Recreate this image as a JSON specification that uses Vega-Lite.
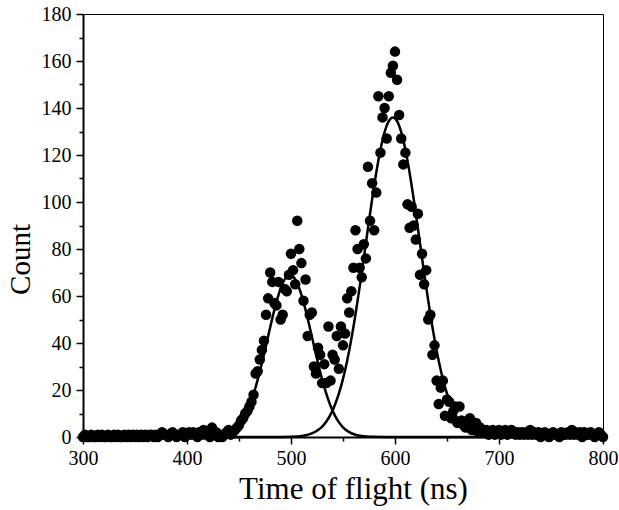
{
  "$schema": "https://vega.github.io/schema/vega-lite/v6.json",
  "width": 520,
  "height": 423,
  "autosize": {"type": "none"},
  "padding": {"left": 83, "top": 14, "right": 16, "bottom": 73},
  "background": "#ffffff",
  "config": {
    "view": {"stroke": "#000000", "strokeWidth": 1},
    "font": "Liberation Serif",
    "axis": {
      "grid": false,
      "domainColor": "#000000",
      "domainWidth": 2,
      "tickColor": "#000000",
      "tickWidth": 1.5,
      "labelColor": "#000000",
      "titleColor": "#000000",
      "labelFont": "Liberation Serif",
      "titleFont": "Liberation Serif",
      "labelFontSize": 20,
      "titleFontSize": 31,
      "titleFontWeight": "normal",
      "labelOverlap": false,
      "labelFlush": false
    }
  },
  "datasets": {
    "pts": [
      {"t":300,"c":0},{"t":302,"c":1},{"t":304,"c":0},{"t":306,"c":0},{"t":308,"c":1},{"t":310,"c":0},{"t":312,"c":0},{"t":314,"c":1},{"t":316,"c":0},{"t":318,"c":1},
      {"t":320,"c":0},{"t":322,"c":0},{"t":324,"c":1},{"t":326,"c":0},{"t":328,"c":0},{"t":330,"c":1},{"t":332,"c":0},{"t":334,"c":1},{"t":336,"c":0},{"t":338,"c":0},
      {"t":340,"c":1},{"t":342,"c":0},{"t":344,"c":1},{"t":346,"c":0},{"t":348,"c":1},{"t":350,"c":0},{"t":352,"c":1},{"t":354,"c":0},{"t":356,"c":1},{"t":358,"c":0},
      {"t":360,"c":1},{"t":362,"c":0},{"t":364,"c":1},{"t":366,"c":1},{"t":368,"c":0},{"t":370,"c":1},{"t":372,"c":0},{"t":374,"c":1},{"t":376,"c":2},{"t":378,"c":1},
      {"t":380,"c":1},{"t":382,"c":0},{"t":384,"c":1},{"t":386,"c":2},{"t":388,"c":1},{"t":390,"c":0},{"t":392,"c":1},{"t":394,"c":1},{"t":396,"c":2},{"t":398,"c":0},
      {"t":400,"c":1},{"t":402,"c":2},{"t":404,"c":1},{"t":406,"c":2},{"t":408,"c":1},{"t":410,"c":0},{"t":412,"c":2},{"t":414,"c":1},{"t":416,"c":3},{"t":418,"c":1},
      {"t":420,"c":2},{"t":422,"c":0},{"t":424,"c":4},{"t":426,"c":1},{"t":428,"c":2},{"t":430,"c":0},{"t":432,"c":1},{"t":434,"c":0},{"t":436,"c":1},{"t":438,"c":2},
      {"t":440,"c":3},{"t":442,"c":1},{"t":444,"c":2},{"t":446,"c":3},{"t":448,"c":4},{"t":450,"c":5},{"t":452,"c":7},{"t":454,"c":8},{"t":456,"c":10},{"t":458,"c":11},
      {"t":460,"c":13},{"t":462,"c":15},{"t":464,"c":18},{"t":466,"c":27},{"t":468,"c":28},{"t":470,"c":33},{"t":472,"c":37},{"t":474,"c":41},{"t":476,"c":52},{"t":478,"c":59},
      {"t":480,"c":70},{"t":482,"c":66},{"t":484,"c":57},{"t":486,"c":56},{"t":488,"c":66},{"t":490,"c":50},{"t":492,"c":52},{"t":494,"c":63},{"t":496,"c":62},{"t":498,"c":69},
      {"t":500,"c":78},{"t":502,"c":71},{"t":504,"c":65},{"t":506,"c":92},{"t":508,"c":80},{"t":510,"c":74},{"t":512,"c":58},{"t":514,"c":67},{"t":516,"c":43},{"t":518,"c":52},
      {"t":520,"c":53},{"t":522,"c":30},{"t":524,"c":27},{"t":526,"c":38},{"t":528,"c":35},{"t":530,"c":23},{"t":532,"c":31},{"t":534,"c":23},{"t":536,"c":47},{"t":538,"c":24},
      {"t":540,"c":35},{"t":542,"c":33},{"t":544,"c":43},{"t":546,"c":29},{"t":548,"c":47},{"t":550,"c":39},{"t":552,"c":44},{"t":554,"c":59},{"t":556,"c":53},{"t":558,"c":62},
      {"t":560,"c":72},{"t":562,"c":88},{"t":564,"c":80},{"t":566,"c":72},{"t":568,"c":68},{"t":570,"c":82},{"t":572,"c":76},{"t":574,"c":115},{"t":576,"c":92},{"t":578,"c":108},
      {"t":580,"c":88},{"t":582,"c":104},{"t":584,"c":145},{"t":586,"c":121},{"t":588,"c":136},{"t":590,"c":140},{"t":592,"c":127},{"t":594,"c":145},{"t":596,"c":155},{"t":598,"c":158},
      {"t":600,"c":164},{"t":602,"c":152},{"t":604,"c":137},{"t":606,"c":127},{"t":608,"c":116},{"t":610,"c":121},{"t":612,"c":99},{"t":614,"c":89},{"t":616,"c":98},{"t":618,"c":90},
      {"t":620,"c":84},{"t":622,"c":95},{"t":624,"c":69},{"t":626,"c":78},{"t":628,"c":65},{"t":630,"c":71},{"t":632,"c":50},{"t":634,"c":52},{"t":636,"c":35},{"t":638,"c":39},
      {"t":640,"c":24},{"t":642,"c":14},{"t":644,"c":21},{"t":646,"c":24},{"t":648,"c":9},{"t":650,"c":16},{"t":652,"c":15},{"t":654,"c":8},{"t":656,"c":11},{"t":658,"c":13},
      {"t":660,"c":6},{"t":662,"c":13},{"t":664,"c":7},{"t":666,"c":5},{"t":668,"c":4},{"t":670,"c":6},{"t":672,"c":8},{"t":674,"c":3},{"t":676,"c":6},{"t":678,"c":6},
      {"t":680,"c":2},{"t":682,"c":4},{"t":684,"c":3},{"t":686,"c":2},{"t":688,"c":3},{"t":690,"c":1},{"t":692,"c":2},{"t":694,"c":3},{"t":696,"c":1},{"t":698,"c":2},
      {"t":700,"c":3},{"t":702,"c":1},{"t":704,"c":2},{"t":706,"c":3},{"t":708,"c":1},{"t":710,"c":2},{"t":712,"c":3},{"t":714,"c":2},{"t":716,"c":1},{"t":718,"c":2},
      {"t":720,"c":1},{"t":722,"c":2},{"t":724,"c":1},{"t":726,"c":2},{"t":728,"c":1},{"t":730,"c":3},{"t":732,"c":1},{"t":734,"c":2},{"t":736,"c":1},{"t":738,"c":2},
      {"t":740,"c":0},{"t":742,"c":1},{"t":744,"c":2},{"t":746,"c":1},{"t":748,"c":0},{"t":750,"c":1},{"t":752,"c":2},{"t":754,"c":1},{"t":756,"c":1},{"t":758,"c":0},
      {"t":760,"c":2},{"t":762,"c":1},{"t":764,"c":1},{"t":766,"c":2},{"t":768,"c":1},{"t":770,"c":3},{"t":772,"c":1},{"t":774,"c":2},{"t":776,"c":1},{"t":778,"c":2},
      {"t":780,"c":0},{"t":782,"c":2},{"t":784,"c":1},{"t":786,"c":1},{"t":788,"c":2},{"t":790,"c":1},{"t":792,"c":0},{"t":794,"c":1},{"t":796,"c":2},{"t":798,"c":1},
      {"t":800,"c":0}
    ],
    "fit": [
      {"peak":"p1","t":300,"c":0},{"peak":"p1","t":400,"c":0},{"peak":"p1","t":420,"c":0.08},{"peak":"p1","t":430,"c":0.4},{"peak":"p1","t":436,"c":0.94},
      {"peak":"p1","t":442,"c":2.05},{"peak":"p1","t":448,"c":4.13},{"peak":"p1","t":452,"c":6.32},{"peak":"p1","t":456,"c":9.33},{"peak":"p1","t":460,"c":13.3},
      {"peak":"p1","t":464,"c":18.33},{"peak":"p1","t":468,"c":24.39},{"peak":"p1","t":472,"c":31.35},{"peak":"p1","t":476,"c":38.92},{"peak":"p1","t":480,"c":46.69},
      {"peak":"p1","t":484,"c":54.09},{"peak":"p1","t":488,"c":60.53},{"peak":"p1","t":492,"c":65.44},{"peak":"p1","t":496,"c":68.33},{"peak":"p1","t":499,"c":69},
      {"peak":"p1","t":502,"c":68.33},{"peak":"p1","t":506,"c":65.44},{"peak":"p1","t":510,"c":60.53},{"peak":"p1","t":514,"c":54.09},{"peak":"p1","t":518,"c":46.69},
      {"peak":"p1","t":522,"c":38.92},{"peak":"p1","t":526,"c":31.35},{"peak":"p1","t":530,"c":24.39},{"peak":"p1","t":534,"c":18.33},{"peak":"p1","t":538,"c":13.3},
      {"peak":"p1","t":542,"c":9.33},{"peak":"p1","t":546,"c":6.32},{"peak":"p1","t":550,"c":4.13},{"peak":"p1","t":556,"c":2.05},{"peak":"p1","t":562,"c":0.94},
      {"peak":"p1","t":568,"c":0.4},{"peak":"p1","t":578,"c":0.08},{"peak":"p1","t":600,"c":0},{"peak":"p1","t":800,"c":0},
      {"peak":"p2","t":300,"c":0},{"peak":"p2","t":480,"c":0},{"peak":"p2","t":500,"c":0.11},{"peak":"p2","t":512,"c":0.57},{"peak":"p2","t":520,"c":1.51},
      {"peak":"p2","t":526,"c":2.94},{"peak":"p2","t":530,"c":4.45},{"peak":"p2","t":534,"c":6.57},{"peak":"p2","t":538,"c":9.49},{"peak":"p2","t":542,"c":13.37},
      {"peak":"p2","t":546,"c":18.41},{"peak":"p2","t":550,"c":24.74},{"peak":"p2","t":554,"c":32.48},{"peak":"p2","t":558,"c":41.66},{"peak":"p2","t":562,"c":52.14},
      {"peak":"p2","t":566,"c":63.77},{"peak":"p2","t":570,"c":76.16},{"peak":"p2","t":574,"c":88.82},{"peak":"p2","t":578,"c":101.17},{"peak":"p2","t":582,"c":112.54},
      {"peak":"p2","t":586,"c":122.26},{"peak":"p2","t":590,"c":129.72},{"peak":"p2","t":594,"c":134.39},{"peak":"p2","t":598,"c":136},{"peak":"p2","t":602,"c":134.39},
      {"peak":"p2","t":606,"c":129.72},{"peak":"p2","t":610,"c":122.26},{"peak":"p2","t":614,"c":112.54},{"peak":"p2","t":618,"c":101.17},{"peak":"p2","t":622,"c":88.82},
      {"peak":"p2","t":626,"c":76.16},{"peak":"p2","t":630,"c":63.77},{"peak":"p2","t":634,"c":52.14},{"peak":"p2","t":638,"c":41.66},{"peak":"p2","t":642,"c":32.48},
      {"peak":"p2","t":646,"c":24.74},{"peak":"p2","t":650,"c":18.41},{"peak":"p2","t":654,"c":13.37},{"peak":"p2","t":658,"c":9.49},{"peak":"p2","t":662,"c":6.57},
      {"peak":"p2","t":666,"c":4.45},{"peak":"p2","t":670,"c":2.94},{"peak":"p2","t":676,"c":1.51},{"peak":"p2","t":684,"c":0.57},{"peak":"p2","t":696,"c":0.11},
      {"peak":"p2","t":720,"c":0},{"peak":"p2","t":800,"c":0}
    ]
  },
  "encoding": {
    "x": {
      "field": "t",
      "type": "quantitative",
      "scale": {"domain": [300, 800], "nice": false, "zero": false},
      "axis": {
        "title": "Time of flight (ns)",
        "values": [300, 350, 400, 450, 500, 550, 600, 650, 700, 750, 800],
        "labelExpr": "datum.value % 100 === 0 ? datum.label : ''",
        "tickSize": {"condition": {"test": "datum.value % 100 === 0", "value": 7}, "value": 4},
        "labelPadding": 4,
        "titlePadding": 6,
        "titleX": 270
      }
    },
    "y": {
      "field": "c",
      "type": "quantitative",
      "scale": {"domain": [0, 180], "nice": false},
      "axis": {
        "title": "Count",
        "values": [0, 10, 20, 30, 40, 50, 60, 70, 80, 90, 100, 110, 120, 130, 140, 150, 160, 170, 180],
        "labelExpr": "datum.value % 20 === 0 ? datum.label : ''",
        "tickSize": {"condition": {"test": "datum.value % 20 === 0", "value": 7}, "value": 4},
        "labelPadding": 5,
        "titlePadding": 6,
        "titleFontSize": 29,
        "titleY": 245
      }
    }
  },
  "layer": [
    {
      "data": {"name": "pts"},
      "mark": {"type": "circle", "size": 110, "color": "#000000", "opacity": 1}
    },
    {
      "data": {"name": "fit"},
      "mark": {"type": "line", "color": "#000000", "strokeWidth": 2.5, "interpolate": "monotone"},
      "encoding": {"detail": {"field": "peak"}}
    }
  ]
}
